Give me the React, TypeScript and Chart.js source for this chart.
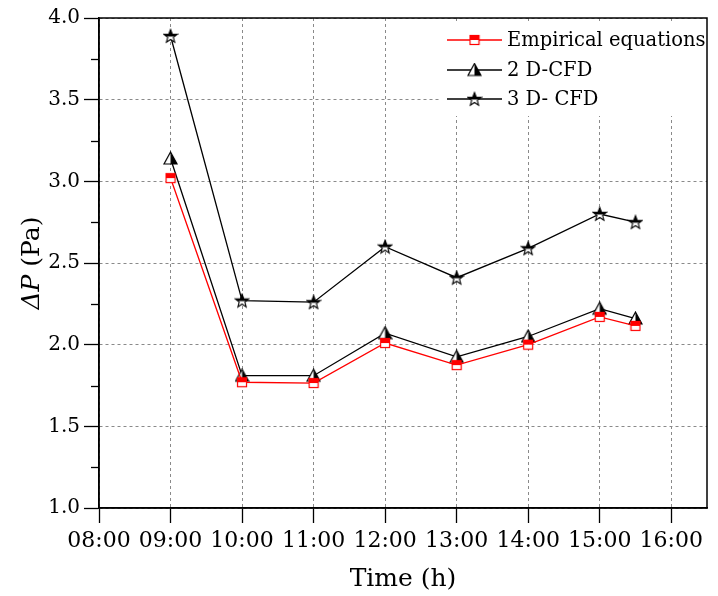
import React, { useEffect, useRef } from 'react';
import { Chart, registerables } from 'chart.js';

Chart.register(...registerables);

// ---- data ----
const times = [9, 10, 11, 12, 13, 14, 15, 15.5];
const empirical = [3.02, 1.77, 1.765, 2.01, 1.875, 2.0, 2.17, 2.115];
const cfd2d = [3.14, 1.81, 1.81, 2.07, 1.925, 2.05, 2.22, 2.16];
const cfd3d = [3.89, 2.27, 2.26, 2.6, 2.41, 2.59, 2.8, 2.75];
const seriesNames = ['Empirical equations', '2 D-CFD', '3 D- CFD'];
const xTickHours = [8, 9, 10, 11, 12, 13, 14, 15, 16];
const yTickValues = [1.0, 1.5, 2.0, 2.5, 3.0, 3.5, 4.0];
const yMinorValues = [1.25, 1.75, 2.25, 2.75, 3.25, 3.75];
const xTitle = 'Time (h)';
const yTitleItalic = 'ΔP';
const yTitleRest = ' (Pa)';

const SERIF = '"DejaVu Serif", serif';

function mk(size: number): [HTMLCanvasElement, CanvasRenderingContext2D] {
  const c = document.createElement('canvas');
  c.width = size;
  c.height = size;
  return [c, c.getContext('2d') as CanvasRenderingContext2D];
}

function makeSquare(): HTMLCanvasElement {
  const [c, ctx] = mk(12);
  ctx.fillStyle = '#fff';
  ctx.fillRect(1.5, 1.5, 9, 9);
  ctx.fillStyle = '#ff0000';
  ctx.fillRect(1.5, 1.5, 9, 4.5);
  ctx.strokeStyle = '#ff0000';
  ctx.lineWidth = 1.2;
  ctx.strokeRect(1.5, 1.5, 9, 9);
  return c;
}

function makeTriangle(): HTMLCanvasElement {
  const [c, ctx] = mk(15);
  const pts: [number, number][] = [[7.5, 1], [14, 13], [1, 13]];
  ctx.beginPath();
  ctx.moveTo(pts[0][0], pts[0][1]);
  ctx.lineTo(pts[1][0], pts[1][1]);
  ctx.lineTo(pts[2][0], pts[2][1]);
  ctx.closePath();
  ctx.fillStyle = '#fff';
  ctx.fill();
  ctx.beginPath();
  ctx.moveTo(7.5, 1);
  ctx.lineTo(14, 13);
  ctx.lineTo(7.5, 13);
  ctx.closePath();
  ctx.fillStyle = '#000';
  ctx.fill();
  ctx.beginPath();
  ctx.moveTo(pts[0][0], pts[0][1]);
  ctx.lineTo(pts[1][0], pts[1][1]);
  ctx.lineTo(pts[2][0], pts[2][1]);
  ctx.closePath();
  ctx.strokeStyle = '#000';
  ctx.lineWidth = 1.2;
  ctx.stroke();
  return c;
}

function starPath(ctx: CanvasRenderingContext2D, cx: number, cy: number, ro: number, ri: number) {
  ctx.beginPath();
  for (let i = 0; i < 10; i++) {
    const r = i % 2 === 0 ? ro : ri;
    const a = -Math.PI / 2 + (i * Math.PI) / 5;
    const px = cx + r * Math.cos(a);
    const py = cy + r * Math.sin(a);
    if (i === 0) ctx.moveTo(px, py);
    else ctx.lineTo(px, py);
  }
  ctx.closePath();
}

function makeStar(): HTMLCanvasElement {
  const [c, ctx] = mk(16);
  const cx = 8, cy = 8.5;
  starPath(ctx, cx, cy, 7, 3);
  ctx.fillStyle = '#fff';
  ctx.fill();
  ctx.save();
  ctx.beginPath();
  ctx.rect(0, 0, 16, cy);
  ctx.clip();
  starPath(ctx, cx, cy, 7, 3);
  ctx.fillStyle = '#000';
  ctx.fill();
  ctx.restore();
  starPath(ctx, cx, cy, 7, 3);
  ctx.strokeStyle = '#000';
  ctx.lineWidth = 1.1;
  ctx.stroke();
  return c;
}

export default function App() {
  const ref = useRef<HTMLCanvasElement>(null);

  useEffect(() => {
    if (!ref.current) return;
    const sq = makeSquare();
    const tri = makeTriangle();
    const star = makeStar();
    const markers = [sq, tri, star];
    const colors = ['#ff0000', '#000000', '#000000'];

    const decor = {
      id: 'decor',
      afterDraw(chart: any) {
        const { ctx, chartArea: a, scales } = chart;
        const y = scales.y;
        ctx.save();

        // legend
        ctx.fillStyle = '#fff';
        ctx.fillRect(441, 24, a.right - 441, 92);
        const rows = [40, 70, 99];
        ctx.font = `19.5px ${SERIF}`;
        ctx.textBaseline = 'middle';
        ctx.textAlign = 'left';
        for (let i = 0; i < 3; i++) {
          ctx.strokeStyle = colors[i];
          ctx.lineWidth = 1.3;
          ctx.beginPath();
          ctx.moveTo(447, rows[i]);
          ctx.lineTo(502, rows[i]);
          ctx.stroke();
          const m = markers[i];
          ctx.drawImage(m, 474.5 - m.width / 2, rows[i] - m.height / 2);
          ctx.fillStyle = '#000';
          ctx.fillText(seriesNames[i], 507, rows[i] + 1);
        }

        // frame
        ctx.strokeStyle = '#000';
        ctx.lineWidth = 1.5;
        ctx.strokeRect(a.left, a.top, a.right - a.left, a.bottom - a.top);

        // minor y ticks
        ctx.lineWidth = 1.3;
        for (const v of yMinorValues) {
          const py = Math.round(y.getPixelForValue(v)) + 0.5;
          ctx.beginPath();
          ctx.moveTo(a.left - 8, py);
          ctx.lineTo(a.left, py);
          ctx.stroke();
        }

        // x title
        ctx.fillStyle = '#000';
        ctx.font = `25px ${SERIF}`;
        ctx.textAlign = 'center';
        ctx.textBaseline = 'alphabetic';
        ctx.fillText(xTitle, (a.left + a.right) / 2, 586);

        // y title (rotated, italic ΔP)
        ctx.save();
        ctx.translate(39, (a.top + a.bottom) / 2);
        ctx.rotate(-Math.PI / 2);
        ctx.textAlign = 'left';
        const fi = `italic 25px ${SERIF}`;
        const fn = `25px ${SERIF}`;
        ctx.font = fi;
        const w1 = ctx.measureText(yTitleItalic).width;
        ctx.font = fn;
        const w2 = ctx.measureText(yTitleRest).width;
        const start = -(w1 + w2) / 2;
        ctx.font = fi;
        ctx.fillText(yTitleItalic, start, 0);
        ctx.font = fn;
        ctx.fillText(yTitleRest, start + w1, 0);
        ctx.restore();

        ctx.restore();
      },
    };

    const mkds = (label: string, data: number[], color: string, marker: HTMLCanvasElement) => ({
      label,
      data: times.map((t, i) => ({ x: t, y: data[i] })),
      borderColor: color,
      backgroundColor: color,
      borderWidth: 1.3,
      pointStyle: marker,
      pointRadius: 6,
      pointHoverRadius: 6,
      tension: 0,
    });

    const chart = new Chart(ref.current, {
      type: 'line',
      data: {
        datasets: [
          mkds(seriesNames[0], empirical, colors[0], sq),
          mkds(seriesNames[1], cfd2d, colors[1], tri),
          mkds(seriesNames[2], cfd3d, colors[2], star),
        ],
      },
      options: {
        animation: false,
        responsive: true,
        maintainAspectRatio: false,
        events: [],
        layout: { padding: { top: 18, right: 11, left: 0, bottom: 0 } },
        plugins: {
          legend: { display: false },
          tooltip: { enabled: false },
        },
        scales: {
          x: {
            type: 'linear',
            min: 8,
            max: 16.5,
            afterBuildTicks: (s: any) => {
              s.ticks = xTickHours.map((v) => ({ value: v }));
            },
            afterFit: (s: any) => {
              s.height = 88;
            },
            ticks: {
              color: '#000',
              font: { family: SERIF, size: 22 },
              padding: 5,
              maxRotation: 0,
              autoSkip: false,
              callback: (v: any) => `${v < 10 ? '0' : ''}${v}:00`,
            },
            grid: {
              color: '#8a8a8a',
              lineWidth: 1,
              drawTicks: true,
              tickLength: 15,
              tickColor: '#000',
              tickWidth: 1.3,
            },
            border: { display: true, color: '#000', width: 1.5, dash: [3, 3] },
          },
          y: {
            type: 'linear',
            min: 1,
            max: 4,
            afterBuildTicks: (s: any) => {
              s.ticks = yTickValues.map((v) => ({ value: v }));
            },
            afterFit: (s: any) => {
              s.width = 99;
            },
            ticks: {
              color: '#000',
              font: { family: SERIF, size: 20 },
              padding: 4,
              callback: (v: any) => Number(v).toFixed(1),
            },
            grid: {
              color: '#8a8a8a',
              lineWidth: 1,
              drawTicks: true,
              tickLength: 15,
              tickColor: '#000',
              tickWidth: 1.3,
            },
            border: { display: true, color: '#000', width: 1.5, dash: [3, 3] },
          },
        },
      },
      plugins: [decor],
    } as any);

    return () => chart.destroy();
  }, []);

  return (
    <div style={{ position: 'fixed', left: 0, top: 0, width: 718, height: 596, background: '#fff' }}>
      <canvas ref={ref} />
    </div>
  );
}
